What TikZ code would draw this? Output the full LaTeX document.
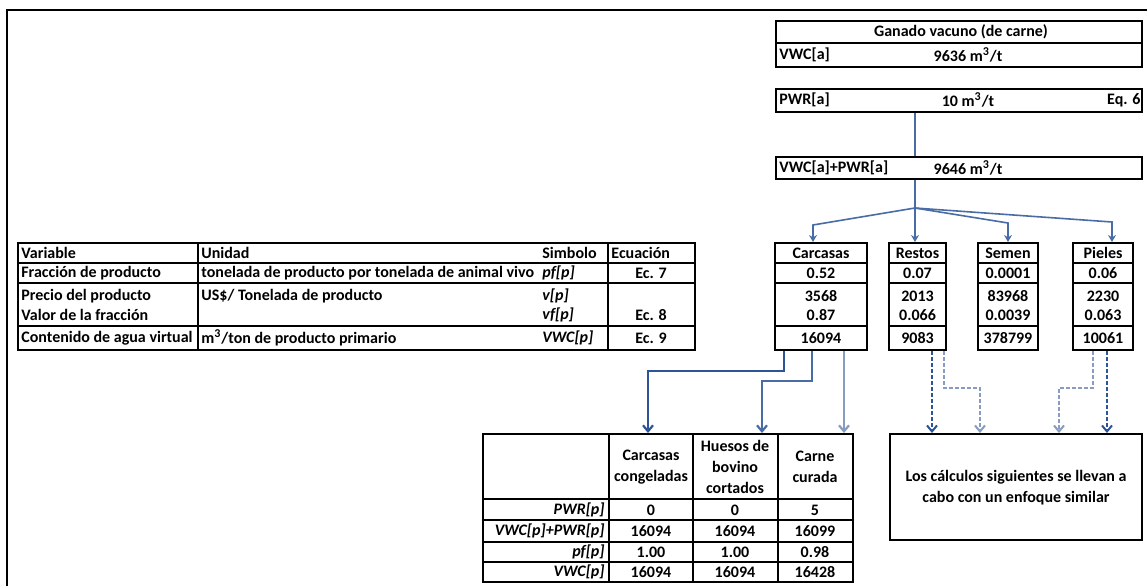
\documentclass[tikz,border=0pt]{standalone}
\usepackage{fontspec}
\setmainfont{Carlito}
\usetikzlibrary{arrows.meta,fit}

\definecolor{linkdark}{RGB}{45,84,150}
\definecolor{linkmid}{RGB}{74,108,166}
\definecolor{linklight}{RGB}{135,156,192}

\tikzset{
  frame/.style={draw,line width=1pt,inner sep=0pt},
  txt/.style={inner sep=0pt,font=\fontsize{8}{9.6}\selectfont\bfseries},
  hd/.style={inner sep=0pt,font=\fontsize{8}{9.6}\selectfont\bfseries},
  sym/.style={inner sep=0pt,font=\fontsize{8}{9.6}\selectfont\bfseries\itshape},
  multi/.style={inner sep=0pt,align=center,font=\fontsize{8}{10.5}\selectfont\bfseries},
  rule/.style={line width=0.9pt},
  fanline/.style={draw=linkmid,line width=0.8pt,-{Stealth[length=3.5pt,width=4pt]}},
  prodline/.style={line width=1.1pt,-{Straight Barb[length=3pt,width=5pt]}},
  simline/.style={line width=1pt,dash pattern=on 2pt off 1pt,-{Straight Barb[length=3pt,width=5pt]}}
}

\begin{document}
\begin{tikzpicture}[x=0.5pt,y=-0.5pt]
	\useasboundingbox (0,0) rectangle (1147,586);
	% Rahmen
	\draw[line width=1.4pt] (7,586) -- (7,10) -- (1147,10);

	% Tier
	\node[frame,fit={(776,21) (1142,67)}] (ganado) {};
	\draw[rule] (ganado.west |- 0,43) -- (ganado.east |- 0,43);
	\node[hd] (ganado-t) at (961,32) {Ganado vacuno (de carne)};
	\node[txt,anchor=west] (vwca) at (779,55) {VWC[a]};
	\node[txt] (vwca-v) at (968,55) {9636 m\textsuperscript{3}/t};

	\node[frame,fit={(776,89) (1142,112)}] (pwr) {};
	\node[txt,anchor=west] (pwra) at (779,100) {PWR[a]};
	\node[txt] (pwra-v) at (968,100) {10 m\textsuperscript{3}/t};
	\node[txt,anchor=east] (pwra-eq) at (1141,100) {Eq. 6};

	\node[frame,fit={(776,157) (1142,179)}] (sum) {};
	\node[txt,anchor=west] (suma) at (779,168) {VWC[a]+PWR[a]};
	\node[txt] (suma-v) at (968,168) {9646 m\textsuperscript{3}/t};

	\draw[draw=linkmid,line width=0.8pt] (915,0 |- pwr.south) -- (915,0 |- sum.north);

	% Legende
	\node[frame,fit={(18,243) (695,350)}] (tab) {};
	\foreach \y in {263,283,326}
		\draw[rule] (tab.west |- 0,\y) -- (tab.east |- 0,\y);
	\foreach \x in {198,608}
		\draw[rule] (tab.north -| \x,0) -- (tab.south -| \x,0);
	\node[hd,anchor=west] (tab-var) at (21,253) {Variable};
	\node[hd,anchor=west] (tab-uni) at (201,253) {Unidad};
	\node[hd,anchor=west] (tab-sym) at (542,253) {Simbolo};
	\node[hd,anchor=west] (tab-eq) at (611,253) {Ecuación};
	\node[txt,anchor=west] (var-pf) at (21,273) {Fracción de producto};
	\node[txt,anchor=west] (var-v) at (21,296) {Precio del producto};
	\node[txt,anchor=west] (var-vf) at (21,315) {Valor de la fracción};
	\node[txt,anchor=west] (var-vwc) at (21,338) {Contenido de agua virtual};
	\node[txt,anchor=west] (uni-pf) at (201,273) {tonelada de producto por tonelada de animal vivo};
	\node[txt,anchor=west] (uni-v) at (201,296) {US\$/ Tonelada de producto};
	\node[txt,anchor=west] (uni-vwc) at (201,338) {m\textsuperscript{3}/ton de producto primario};
	\node[sym,anchor=west] (sym-pf) at (542,273) {pf[p]};
	\node[sym,anchor=west] (sym-v) at (542,296) {v[p]};
	\node[sym,anchor=west] (sym-vf) at (542,315) {vf[p]};
	\node[sym,anchor=west] (sym-vwc) at (542,338) {VWC[p]};
	\node[txt] (eq-pf) at (651,273) {Ec. 7};
	\node[txt] (eq-vf) at (651,315) {Ec. 8};
	\node[txt] (eq-vwc) at (651,338) {Ec. 9};

	% Produkte
	\foreach \nm/\xa/\xb/\ttl/\pf/\v/\vf/\w in {carc/775/867/Carcasas/0.52/3568/0.87/16094,
		rest/889/946/Restos/0.07/2013/0.066/9083,
		sem/978/1038/Semen/0.0001/83968/0.0039/378799,
		piel/1073/1133/Pieles/0.06/2230/0.063/10061}{
		\node[frame,fit={(\xa,243) (\xb,350)}] (\nm) {};
		\foreach \y in {263,283,326}
			\draw[rule] (\nm.west |- 0,\y) -- (\nm.east |- 0,\y);
		\node[hd] (\nm-h) at (\nm.center |- 0,253) {\ttl};
		\node[txt] (\nm-pf) at (\nm.center |- 0,273) {\pf};
		\node[txt] (\nm-v) at (\nm.center |- 0,296) {\v};
		\node[txt] (\nm-vf) at (\nm.center |- 0,315) {\vf};
		\node[txt] (\nm-w) at (\nm.center |- 0,338) {\w};
	}

	% Verteilung
	\coordinate (fan) at (915,208);
	\draw[draw=linkmid,line width=0.8pt] (915,0 |- sum.south) -- (fan);
	\draw[fanline] (fan) -- (813,225) -- (813,0 |- carc.north);
	\draw[fanline] (fan) -- (915,0 |- rest.north);
	\draw[fanline] (fan) -- (1008,223) -- (1008,0 |- sem.north);
	\draw[fanline] (fan) -- (1112,222) -- (1112,0 |- piel.north);

	% Folgeprodukte
	\node[frame,fit={(483,434) (853,582)}] (bt) {};
	\foreach \y in {499,520,542,562}
		\draw[rule] (bt.west |- 0,\y) -- (bt.east |- 0,\y);
	\foreach \x in {609,693,778}
		\draw[rule] (bt.north -| \x,0) -- (bt.south -| \x,0);
	\node[multi] (bt-cc) at (651,467) {Carcasas\\congeladas};
	\node[multi] (bt-hb) at (735,467) {Huesos de\\bovino\\cortados};
	\node[multi] (bt-cr) at (815,467) {Carne\\curada};
	\foreach \nm/\y/\lab/\a/\b/\c in {pwr/510/PWR[p]/0/0/5,
		sum/531/VWC[p]+PWR[p]/16094/16094/16099,
		pf/552/pf[p]/1.00/1.00/0.98,
		vwc/572/VWC[p]/16094/16094/16428}{
		\node[sym,anchor=east] (bt-\nm) at (605,\y) {\lab};
		\node[hd] (bt-\nm-a) at (651,\y) {\a};
		\node[hd] (bt-\nm-b) at (735,\y) {\b};
		\node[hd] (bt-\nm-c) at (815,\y) {\c};
	}

	\draw[prodline,draw=linkdark] (784,0 |- carc.south) -- (784,371) -- (648,371) -- (648,0 |- bt.north);
	\draw[prodline,draw=linkmid] (812,0 |- carc.south) -- (812,381) -- (762,381) -- (762,0 |- bt.north);
	\draw[prodline,draw=linklight] (844,0 |- carc.south) -- (844,0 |- bt.north);

	% Hinweis
	\node[frame,fit={(890,434) (1142,540)}] (sim) {};
	\node[multi] (sim-t) at (1016,488) {Los cálculos siguientes se llevan a\\cabo con un enfoque similar};

	\draw[simline,draw=linkdark] (932,0 |- rest.south) -- (932,0 |- sim.north);
	\draw[simline,draw=linklight] (944,0 |- rest.south) -- (944,388) -- (980,388) -- (980,0 |- sim.north);
	\draw[simline,draw=linklight] (1093,0 |- piel.south) -- (1093,388) -- (1059,388) -- (1059,0 |- sim.north);
	\draw[simline,draw=linkdark] (1107,0 |- piel.south) -- (1107,0 |- sim.north);
\end{tikzpicture}
\end{document}
